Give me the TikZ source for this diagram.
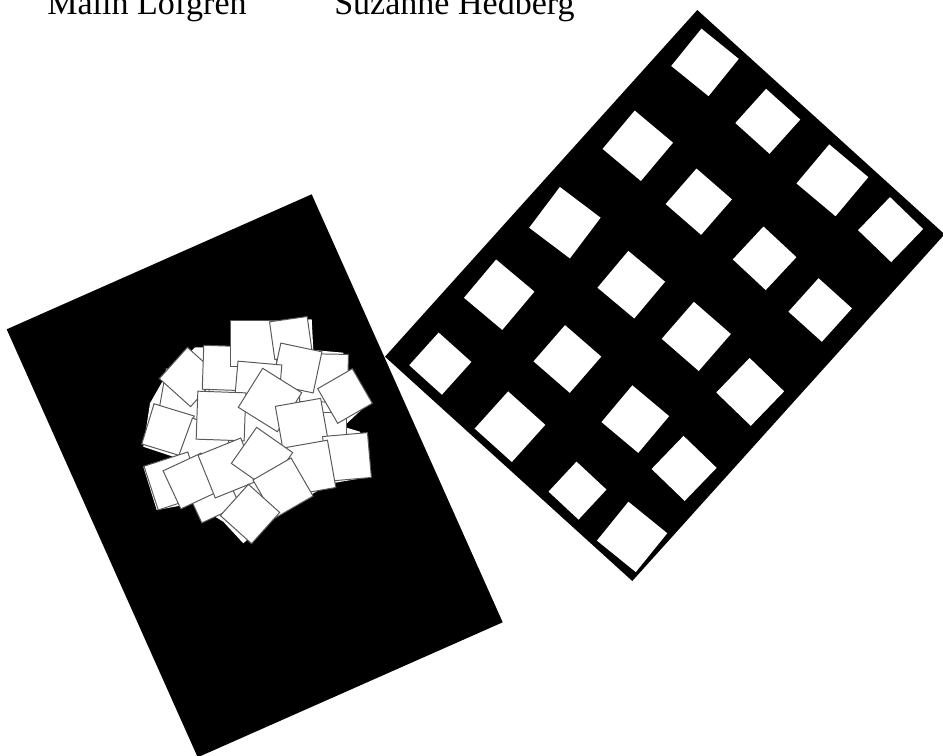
\documentclass[tikz,border=0pt]{standalone}
\usepackage{fontspec}
\setmainfont{Liberation Serif}
\tikzset{
  sheet/.style={fill=black},
  hole/.style={fill=white},
  scrap/.style={fill=white, draw=black!65, line width=0.7pt},
  signature/.style={font=\fontsize{24.2}{29}\selectfont, anchor=base west, inner sep=0pt}
}

\begin{document}
\begin{tikzpicture}[x=0.025cm, y=-0.025cm]
    \useasboundingbox (0, 0) rectangle (943, 756);
    \fill[white] (0, 0) rectangle (943, 756);
    % names
    \node[signature] (malin) at (47, 15) {Malin Löfgren};
    \node[signature] (suzanne) at (334, 15) {Suzanne Hedberg};
    % left sheet with the pile of scraps
    \fill[sheet] (311.7, 194.3) -- (502.7, 622.3) -- (197.7, 757.3)
        -- (6.7, 329.3) -- cycle;
    \fill[hole] (230, 322.7) -- (311.7, 319.3) -- (313.3, 350) -- (343.3, 352.7)
        -- (346, 376.7) -- (370, 401.7) -- (343.3, 426.7) -- (360, 431.7)
        -- (370.7, 476.7) -- (331.7, 483.3) -- (276.7, 513.3) -- (243.3, 543.3)
        -- (223.3, 521.7) -- (193.3, 503.3) -- (156.7, 510) -- (143.3, 466.7)
        -- (173.3, 456.7) -- (143.3, 446.7) -- (150, 403.3) -- (163.3, 380)
        -- (195, 347.3) -- (230, 348) -- cycle;
    \filldraw[scrap, shift={(185, 395)}, rotate=-10] (-23, -23) rectangle (23, 23);
    \filldraw[scrap, shift={(168, 430)}, rotate=-17] (-21, -21) rectangle (21, 21);
    \filldraw[scrap, shift={(205, 445)}, rotate=-20] (-21, -21) rectangle (21, 21);
    \filldraw[scrap, shift={(189, 377)}, rotate=-42] (-21, -21) rectangle (21, 21);
    \filldraw[scrap, shift={(225, 368)}, rotate=-2] (-22, -22) rectangle (22, 22);
    \filldraw[scrap, shift={(253, 343)}, rotate=0] (-23, -23) rectangle (23, 23);
    \filldraw[scrap, shift={(291, 338)}, rotate=8] (-19, -19) rectangle (19, 19);
    \filldraw[scrap, shift={(324, 378)}, rotate=-1] (-24, -24) rectangle (24, 24);
    \filldraw[scrap, shift={(330, 428)}, rotate=0] (-16, -16) rectangle (16, 16);
    \filldraw[scrap, shift={(345, 396)}, rotate=30] (-20, -20) rectangle (20, 20);
    \filldraw[scrap, shift={(297, 368)}, rotate=-12] (-21, -21) rectangle (21, 21);
    \filldraw[scrap, shift={(258, 385)}, rotate=-5] (-22, -22) rectangle (22, 22);
    \filldraw[scrap, shift={(221, 416)}, rotate=-2] (-24, -24) rectangle (24, 24);
    \filldraw[scrap, shift={(270, 400)}, rotate=-32] (-23, -23) rectangle (23, 23);
    \filldraw[scrap, shift={(302, 425)}, rotate=10] (-23, -23) rectangle (23, 23);
    \filldraw[scrap, shift={(347, 457)}, rotate=5] (-22.5, -22.5) rectangle (22.5, 22.5);
    \filldraw[scrap, shift={(308, 468)}, rotate=10] (-24, -24) rectangle (24, 24);
    \filldraw[scrap, shift={(212, 495)}, rotate=25] (-21, -21) rectangle (21, 21);
    \filldraw[scrap, shift={(173, 481)}, rotate=18] (-23, -23) rectangle (23, 23);
    \filldraw[scrap, shift={(191, 481)}, rotate=25] (-21, -21) rectangle (21, 21);
    \filldraw[scrap, shift={(228, 468)}, rotate=22] (-23, -23) rectangle (23, 23);
    \filldraw[scrap, shift={(262, 458)}, rotate=-35] (-22, -22) rectangle (22, 22);
    \filldraw[scrap, shift={(283, 488)}, rotate=30] (-22, -22) rectangle (22, 22);
    \filldraw[scrap, shift={(250, 514)}, rotate=-42] (-21, -21) rectangle (21, 21);
    % right sheet with the grid of holes
    \fill[sheet] (697.3, 10) -- (944.6, 234.3) -- (632.3, 581)
        -- (385, 356.7) -- cycle;
    \fill[hole, shift={(705.0, 62.4)}, rotate=-39] (-24, -24) rectangle (24, 24);
    \fill[hole, shift={(767.8, 121.3)}, rotate=-42] (-23, -23) rectangle (23, 23);
    \fill[hole, shift={(832.4, 180.3)}, rotate=-40] (-25.5, -25.5) rectangle (25.5, 25.5);
    \fill[hole, shift={(890.6, 229.6)}, rotate=-44] (-23, -23) rectangle (23, 23);
    \fill[hole, shift={(637.8, 145.8)}, rotate=-40] (-25, -25) rectangle (25, 25);
    \fill[hole, shift={(698.8, 201.7)}, rotate=-41] (-23.5, -23.5) rectangle (23.5, 23.5);
    \fill[hole, shift={(764.6, 258.3)}, rotate=-43] (-22.5, -22.5) rectangle (22.5, 22.5);
    \fill[hole, shift={(820.2, 310.0)}, rotate=-42] (-22.5, -22.5) rectangle (22.5, 22.5);
    \fill[hole, shift={(564.9, 222.7)}, rotate=-37] (-25.5, -25.5) rectangle (25.5, 25.5);
    \fill[hole, shift={(631.3, 284.7)}, rotate=-40] (-24, -24) rectangle (24, 24);
    \fill[hole, shift={(696.3, 336.4)}, rotate=-41] (-24.5, -24.5) rectangle (24.5, 24.5);
    \fill[hole, shift={(750.2, 391.9)}, rotate=-44] (-24, -24) rectangle (24, 24);
    \fill[hole, shift={(499.2, 294.7)}, rotate=-40] (-25, -25) rectangle (25, 25);
    \fill[hole, shift={(567.4, 359.0)}, rotate=-41] (-24, -24) rectangle (24, 24);
    \fill[hole, shift={(635.3, 419.1)}, rotate=-40] (-24, -24) rectangle (24, 24);
    \fill[hole, shift={(684.1, 468.4)}, rotate=-44] (-23, -23) rectangle (23, 23);
    \fill[hole, shift={(440.3, 363.6)}, rotate=-42] (-22, -22) rectangle (22, 22);
    \fill[hole, shift={(510.0, 426.7)}, rotate=-42] (-25, -25) rectangle (25, 25);
    \fill[hole, shift={(577.5, 490.6)}, rotate=-43] (-20.5, -20.5) rectangle (20.5, 20.5);
    \fill[hole, shift={(632.1, 536.9)}, rotate=-39] (-25, -25) rectangle (25, 25);
\end{tikzpicture}
\end{document}
